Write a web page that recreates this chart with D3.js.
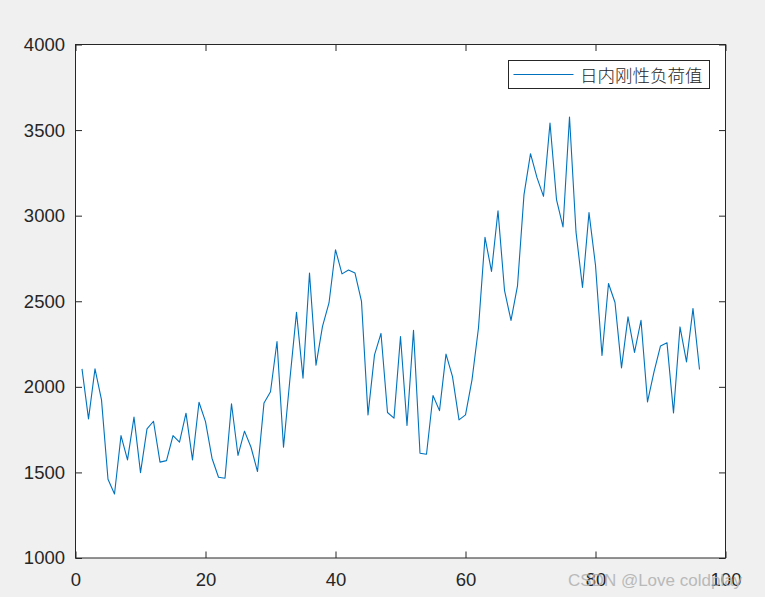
<!DOCTYPE html>
<html>
<head>
<meta charset="utf-8">
<script src="https://cdn.jsdelivr.net/npm/d3@7"></script>
<style>
  html, body { margin: 0; padding: 0; background: #f0f0f0; }
  svg { display: block; }
</style>
</head>
<body>
<svg id="chart" width="765" height="597"></svg>
<script>
// ---- data ----
const seriesName = "日内刚性负荷值";
const loadValues = [
  2105, 1813, 2105, 1924, 1460, 1374, 1715, 1573, 1823, 1499,
  1754, 1799, 1560, 1569, 1715, 1677, 1846, 1573, 1910, 1797,
  1583, 1472, 1466, 1901, 1599, 1741, 1647, 1505, 1906, 1971,
  2265, 1647, 2050, 2435, 2051, 2665, 2127, 2353, 2490, 2801,
  2660, 2682, 2665, 2499, 1836, 2187, 2312, 1850, 1817, 2294,
  1774, 2331, 1612, 1606, 1949, 1861, 2191, 2060, 1807, 1836,
  2041, 2345, 2873, 2674, 3029, 2564, 2388, 2590, 3123, 3362,
  3222, 3113, 3541, 3094, 2934, 3576, 2905, 2580, 3018, 2710,
  2183, 2604, 2493, 2111, 2409, 2201, 2389, 1912, 2088, 2239,
  2257, 1848, 2350, 2146, 2458, 2101
];
const xIndex = loadValues.map((_, i) => i + 1);
const xTicks = [0, 20, 40, 60, 80, 100];
const yTicks = [1000, 1500, 2000, 2500, 3000, 3500, 4000];

// ---- layout ----
const svg = d3.select("#chart");
const plotL = 75.5, plotR = 725.5, plotT = 44.5, plotB = 558;
const x = d3.scaleLinear().domain([0, 100]).range([plotL, plotR]);
const y = d3.scaleLinear().domain([1000, 4000]).range([plotB, plotT]);
const axisColor = "#262626";
const tickFont = "'Liberation Sans', Arial, sans-serif";

svg.append("rect").attr("width", 765).attr("height", 597).attr("fill", "#f0f0f0");
svg.append("rect")
  .attr("x", plotL).attr("y", plotT)
  .attr("width", plotR - plotL).attr("height", plotB - plotT)
  .attr("fill", "#ffffff");

// data line
svg.append("path")
  .datum(loadValues)
  .attr("fill", "none")
  .attr("stroke", "#0072BD")
  .attr("stroke-width", 1.1)
  .attr("stroke-linejoin", "round")
  .attr("d", d3.line().x((d, i) => x(xIndex[i])).y(d => y(d)));

function styleAxis(g, showLabels) {
  g.select(".domain").remove();
  g.selectAll(".tick line").attr("stroke", axisColor).attr("stroke-width", 1);
  g.selectAll(".tick text")
    .attr("fill", axisColor)
    .style("font-family", tickFont)
    .style("font-size", "18.5px");
  if (!showLabels) g.selectAll(".tick text").remove();
}

svg.append("g").attr("transform", `translate(0,${plotB})`)
  .call(d3.axisBottom(x).tickValues(xTicks).tickSizeInner(-6.5).tickSizeOuter(0).tickPadding(15).tickFormat(d3.format("d")))
  .call(g => styleAxis(g, true));
svg.append("g").attr("transform", `translate(0,${plotT})`)
  .call(d3.axisTop(x).tickValues(xTicks).tickSizeInner(-6.5).tickSizeOuter(0))
  .call(g => styleAxis(g, false));
svg.append("g").attr("transform", `translate(${plotL},0)`)
  .call(d3.axisLeft(y).tickValues(yTicks).tickSizeInner(-6.5).tickSizeOuter(0).tickPadding(10.5).tickFormat(d3.format("d")))
  .call(g => styleAxis(g, true));
svg.append("g").attr("transform", `translate(${plotR},0)`)
  .call(d3.axisRight(y).tickValues(yTicks).tickSizeInner(-6.5).tickSizeOuter(0))
  .call(g => styleAxis(g, false));

// box
svg.append("rect")
  .attr("x", plotL).attr("y", plotT)
  .attr("width", plotR - plotL).attr("height", plotB - plotT)
  .attr("fill", "none").attr("stroke", axisColor).attr("stroke-width", 1);

// legend
const lg = svg.append("g");
lg.append("rect")
  .attr("x", 508.5).attr("y", 60.5).attr("width", 201).attr("height", 28)
  .attr("fill", "#ffffff").attr("stroke", axisColor).attr("stroke-width", 1);
lg.append("line")
  .attr("x1", 513.5).attr("x2", 573.5).attr("y1", 74.5).attr("y2", 74.5)
  .attr("stroke", "#0072BD").attr("stroke-width", 1.1);
lg.append("text")
  .attr("x", 580).attr("y", 74.5)
  .attr("dominant-baseline", "central")
  .attr("fill", "#262626")
  .style("font-family", "'Noto Sans CJK SC', sans-serif")
  .style("font-size", "17.5px")
  .style("font-weight", "300")
  .text(seriesName);

// watermark
svg.append("text")
  .attr("x", 568).attr("y", 586)
  .attr("fill", "#b4b4b4")
  .attr("opacity", 0.9)
  .style("font-family", tickFont)
  .style("font-size", "17px")
  .text("CSDN @Love coldplay");
</script>
</body>
</html>
